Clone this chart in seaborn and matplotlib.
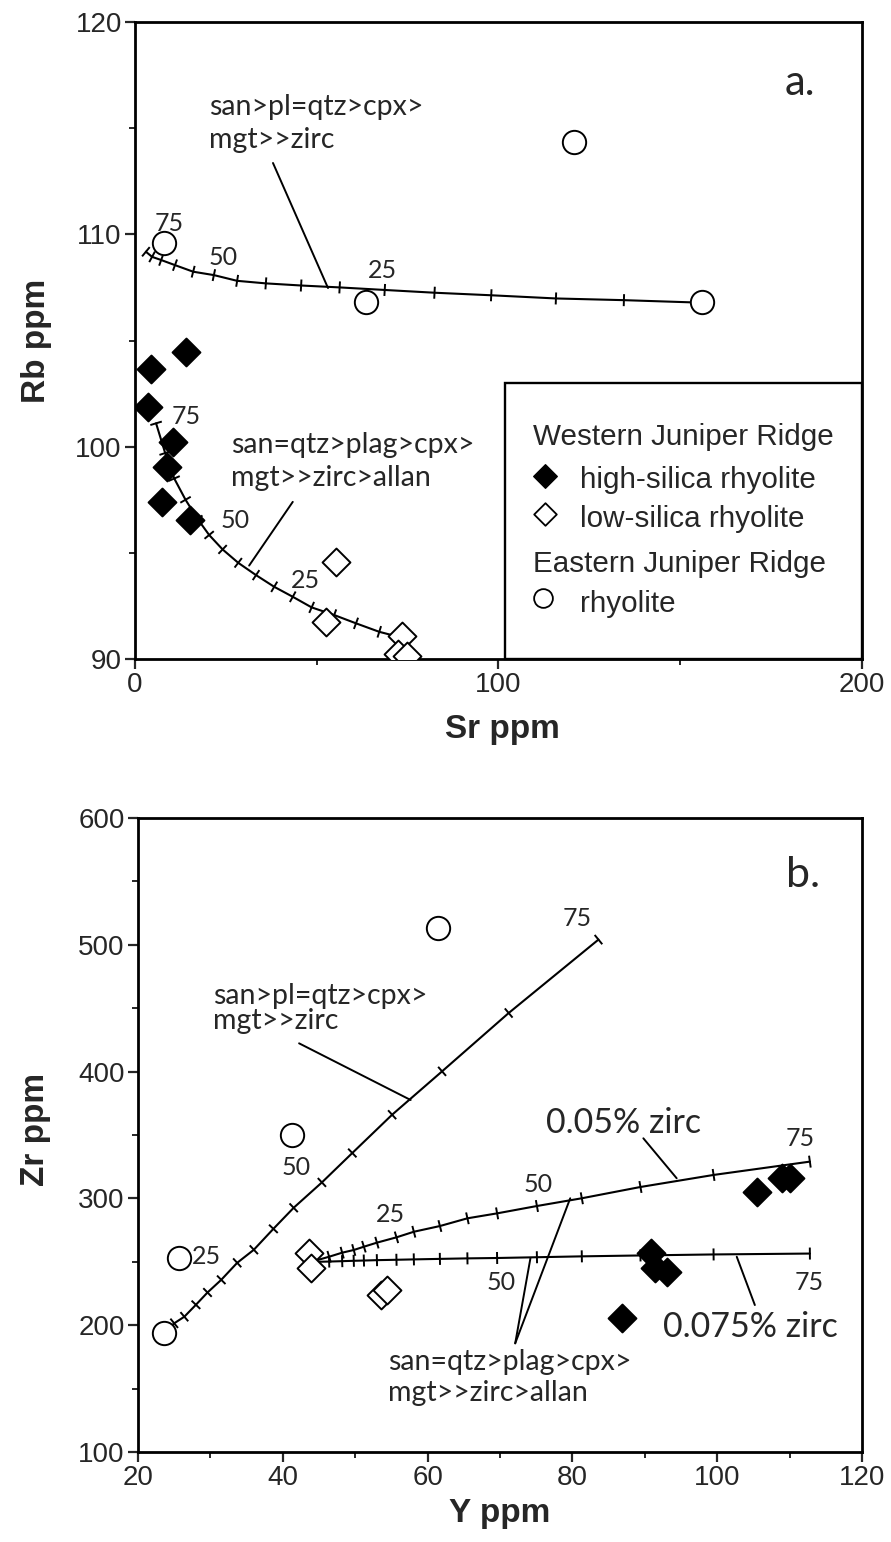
import numpy as np
import pandas as pd
import matplotlib
matplotlib.use("Agg")
import matplotlib.pyplot as plt
from matplotlib import font_manager
from matplotlib.patches import Rectangle
import seaborn as sns

# ---------------- Panel a : Rb ppm vs Sr ppm ----------------
a_high_sr = [4.4, 14.0, 3.6, 10.5, 8.8, 7.4, 15.1]
a_high_rb = [103.65, 104.45, 101.85, 100.2, 99.05, 97.4, 96.55]
a_low_sr = [55.3, 52.5, 73.5, 72.4, 74.8]
a_low_rb = [94.55, 91.75, 91.1, 90.25, 90.15]
a_east_sr = [120.8, 8.1, 63.5, 155.9]
a_east_rb = [114.35, 109.6, 106.8, 106.8]

pct = [0, 5, 10, 15, 20, 25, 30, 35, 40, 45, 50, 55, 60, 65, 70, 75]
# model: san>pl=qtz>cpx>mgt>>zirc (from eastern rhyolite)
a_m1_sr = [156.0, 134.5, 115.8, 98.0, 82.4, 68.7, 56.3, 45.7, 36.0, 28.1,
           21.7, 16.0, 11.0, 7.2, 4.7, 3.0]
a_m1_rb = [106.78, 106.9, 106.98, 107.13, 107.25, 107.38, 107.5, 107.59, 107.69,
           107.81, 108.08, 108.24, 108.55, 108.79, 108.94, 109.18]
# model: san=qtz>plag>cpx>mgt>>zirc>allan (from low-silica rhyolite)
a_m2_sr = [73.5, 67.2, 60.8, 54.8, 48.6, 43.4, 38.3, 33.3, 28.4, 24.1,
           20.4, 17.2, 13.9, 10.8, 8.3, 5.8]
a_m2_rb = [91.0, 91.28, 91.68, 92.07, 92.43, 92.93, 93.4, 93.95, 94.53, 95.16,
           95.84, 96.6, 97.5, 98.5, 99.7, 101.1]

# ---------------- Panel b : Zr ppm vs Y ppm ----------------
b_high_y = [105.5, 108.9, 110.1, 90.8, 91.4, 93.1, 86.9]
b_high_zr = [305.3, 315.8, 315.8, 256.7, 245.0, 242.2, 205.4]
b_low_y = [43.6, 43.9, 53.5, 54.4]
b_low_zr = [256.7, 245.0, 224.0, 227.8]
b_east_y = [61.4, 41.3, 25.7, 23.6]
b_east_zr = [513.0, 350.0, 252.8, 193.6]

# model: san>pl=qtz>cpx>mgt>>zirc
b_m1_y = [23.6, 25.0, 26.4, 28.0, 29.6, 31.5, 33.7, 36.0, 38.7, 41.5,
          45.4, 49.6, 55.1, 62.0, 71.2, 83.6]
b_m1_zr = [193.6, 201.5, 206.7, 216.1, 225.8, 235.8, 249.2, 259.5, 276.0, 292.6,
           312.6, 335.8, 366.0, 400.2, 446.2, 504.1]
# model: san=qtz>plag>cpx>mgt>>zirc>allan, 0.05% zircon
b_m2_y = [44.8, 46.4, 48.2, 49.8, 51.2, 53.0, 55.7, 58.1, 61.7, 65.5,
          69.6, 75.1, 81.3, 89.4, 99.5, 112.8]
b_m2_zr = [251.4, 254.0, 257.2, 259.3, 261.9, 265.1, 269.3, 273.7, 278.2, 284.3,
           288.2, 294.0, 300.1, 309.0, 318.5, 329.0]
# model: same assemblage, 0.075% zircon
b_m3_y = [44.8, 46.4, 48.2, 49.8, 51.2, 53.0, 55.7, 58.1, 61.7, 65.5,
          69.6, 75.1, 81.3, 89.4, 99.5, 112.8]
b_m3_zr = [250.0, 250.2, 250.5, 250.8, 251.0, 251.3, 251.6, 251.9, 252.3, 252.7,
           253.0, 253.6, 254.3, 255.0, 255.8, 256.5]

# ---------------- fonts / style ----------------
sns.set_style("ticks")
avail = {f.name for f in font_manager.fontManager.ttflist}
SANS = "Liberation Sans" if "Liberation Sans" in avail else "DejaVu Sans"
NARROW = "Liberation Sans Narrow" if "Liberation Sans Narrow" in avail else SANS
HUMAN = "Lato" if "Lato" in avail else SANS
plt.rcParams["font.family"] = [SANS, "DejaVu Sans"]

TICKFS = 23.5 if NARROW != SANS else 20
W, H = 891, 1542
fig = plt.figure(figsize=(W / 100, H / 100), dpi=100)
fig.patch.set_facecolor("white")

def px_axes(l, t, r, b):
    return [l / W, 1 - b / H, (r - l) / W, (b - t) / H]

ax_a = fig.add_axes(px_axes(135, 22, 862, 659))
ax_b = fig.add_axes(px_axes(138, 818, 862, 1452))

def style_axes(ax):
    for s in ax.spines.values():
        s.set_linewidth(2.0)
        s.set_color("black")
    ax.tick_params(which="major", length=7, width=1.6, direction="out",
                   labelsize=TICKFS, pad=2.5)
    ax.tick_params(which="minor", length=4.5, width=1.4, direction="out")
    ax.tick_params(top=False, right=False, which="both")
    for lab in ax.get_xticklabels() + ax.get_yticklabels():
        lab.set_fontfamily(NARROW)
    ax.set_facecolor("white")

DIAM_S = 14.2 ** 2
CIRC_S = 16.8 ** 2
MEW = 1.4

def draw_points(ax, hx, hy, lx, ly, ex, ey):
    sns.scatterplot(x=hx, y=hy, marker="D", s=DIAM_S, color="black",
                    edgecolor="black", linewidth=MEW, ax=ax, zorder=5)
    sns.scatterplot(x=lx, y=ly, marker="D", s=DIAM_S, facecolor="white",
                    edgecolor="black", linewidth=MEW, ax=ax, zorder=5)
    sns.scatterplot(x=ex, y=ey, marker="o", s=CIRC_S, facecolor="white",
                    edgecolor="black", linewidth=MEW, ax=ax, zorder=5)

def draw_model(ax, xs, ys, half=6.0, lw=1.5):
    df = pd.DataFrame({"x": xs, "y": ys, "pct": pct})
    sns.lineplot(data=df, x="x", y="y", sort=False, estimator=None,
                 color="black", linewidth=lw, ax=ax, zorder=3)
    pts = ax.transData.transform(np.column_stack([xs, ys]))
    inv = ax.transData.inverted()
    n = len(pts)
    for i in range(1, n):
        j0, j1 = max(i - 1, 0), min(i + 1, n - 1)
        t = pts[j1] - pts[j0]
        t = t / np.hypot(*t)
        nrm = np.array([-t[1], t[0]])
        seg = inv.transform(np.vstack([pts[i] - nrm * half, pts[i] + nrm * half]))
        ax.plot(seg[:, 0], seg[:, 1], color="black", lw=1.4, zorder=3,
                solid_capstyle="butt")

def leader(ax, x0, y0, x1, y1):
    ax.plot([x0, x1], [y0, y1], color="black", lw=1.4, zorder=2)

# ---------------- Panel a ----------------
ax = ax_a
ax.set_xlim(0, 200)
ax.set_ylim(90, 120)
ax.set_xticks([0, 100, 200])
ax.set_xticks([50, 150], minor=True)
ax.set_yticks([90, 100, 110, 120])
ax.set_yticks([95, 105, 115], minor=True)
draw_model(ax, a_m1_sr, a_m1_rb)
draw_model(ax, a_m2_sr, a_m2_rb)
draw_points(ax, a_high_sr, a_high_rb, a_low_sr, a_low_rb, a_east_sr, a_east_rb)
style_axes(ax)
ax.set_xlabel("Sr ppm", fontsize=24, fontweight="bold", family=SANS)
ax.set_ylabel("Rb ppm", fontsize=24, fontweight="bold", family=SANS)
ax.xaxis.set_label_coords(0.506, -0.086)
ax.yaxis.set_label_coords(-0.135, 0.5)
ax.yaxis.label.set_va("center")

PCTFS = 18
ANNFS = 20.5
for (x, y, s) in [(9.3, 110.5, "75"), (24.2, 108.9, "50"), (68.0, 108.3, "25"),
                  (14.0, 101.4, "75"), (27.5, 96.5, "50"), (46.8, 93.7, "25")]:
    ax.text(x, y, s, fontsize=PCTFS, family=HUMAN, ha="center", va="center", zorder=6)
ax.text(20.4, 115.22, "san>pl=qtz>cpx>\nmgt>>zirc", fontsize=ANNFS, family=HUMAN,
        ha="left", va="center", linespacing=1.3)
leader(ax, 37.96, 113.36, 53.1, 107.47)
ax.text(26.4, 99.3, "san=qtz>plag>cpx>\nmgt>>zirc>allan", fontsize=ANNFS, family=HUMAN,
        ha="left", va="center", linespacing=1.3)
leader(ax, 43.4, 97.4, 31.4, 94.4)
ax.text(0.915, 0.904, "a.", transform=ax.transAxes, fontsize=30, family=HUMAN,
        ha="center", va="center")

# legend box
lx0 = (505 - 135) / 727
ly1 = (659 - 383) / 637
ax.add_patch(Rectangle((lx0, 0), 1 - lx0, ly1, transform=ax.transAxes,
                       fill=True, facecolor="white", edgecolor="black", lw=1.7,
                       zorder=7, clip_on=False))
def axp(px, py):
    return ((px - 135) / 727, (659 - py) / 637)
LEGFS = 21.3
for (px, py, s) in [(533, 445, "Western Juniper Ridge"), (580, 488, "high-silica rhyolite"),
                    (580, 527, "low-silica rhyolite"), (533, 572, "Eastern Juniper Ridge"),
                    (580, 612, "rhyolite")]:
    xx, yy = axp(px, py)
    ax.text(xx, yy, s, transform=ax.transAxes, fontsize=LEGFS, family=SANS,
            ha="left", va="baseline", zorder=8)
mx, my = axp(545, 476)
ax.scatter([mx], [my], marker="D", s=12 ** 2, color="black", transform=ax.transAxes, zorder=8,
           clip_on=False)
mx, my = axp(545, 514)
ax.scatter([mx], [my], marker="D", s=11.5 ** 2, facecolor="white", edgecolor="black",
           linewidth=1.3, transform=ax.transAxes, zorder=8, clip_on=False)
mx, my = axp(543, 598)
ax.scatter([mx], [my], marker="o", s=13.5 ** 2, facecolor="white", edgecolor="black",
           linewidth=1.3, transform=ax.transAxes, zorder=8, clip_on=False)

# ---------------- Panel b ----------------
ax = ax_b
ax.set_xlim(20, 120)
ax.set_ylim(100, 600)
ax.set_xticks([20, 40, 60, 80, 100, 120])
ax.set_xticks([30, 50, 70, 90, 110], minor=True)
ax.set_yticks([100, 200, 300, 400, 500, 600])
ax.set_yticks([150, 250, 350, 450, 550], minor=True)
draw_model(ax, b_m1_y, b_m1_zr)
draw_model(ax, b_m2_y, b_m2_zr)
draw_model(ax, b_m3_y, b_m3_zr)
draw_points(ax, b_high_y, b_high_zr, b_low_y, b_low_zr, b_east_y, b_east_zr)
style_axes(ax)
ax.set_xlabel("Y ppm", fontsize=24, fontweight="bold", family=SANS)
ax.set_ylabel("Zr ppm", fontsize=24, fontweight="bold", family=SANS)
ax.xaxis.set_label_coords(0.5, -0.073)
ax.yaxis.set_label_coords(-0.142, 0.508)
ax.yaxis.label.set_va("center")

for (x, y, s) in [(29.5, 253.8, "25"), (41.8, 324.0, "50"), (80.6, 521.0, "75"),
                  (54.8, 287.0, "25"), (75.2, 310.6, "50"), (111.4, 347.6, "75"),
                  (70.2, 233.3, "50"), (112.7, 233.3, "75")]:
    ax.text(x, y, s, fontsize=PCTFS, family=HUMAN, ha="center", va="center", zorder=6)
ax.text(30.3, 449.8, "san>pl=qtz>cpx>\nmgt>>zirc", fontsize=ANNFS, family=HUMAN,
        ha="left", va="center", linespacing=0.95)
leader(ax, 42.25, 422.3, 57.66, 377.6)
ax.text(76.3, 359.5, "0.05% zirc", fontsize=24.5, family=HUMAN, ha="left", va="center")
leader(ax, 89.8, 347.4, 94.4, 315.9)
ax.text(92.55, 198.6, "0.075% zirc", fontsize=24.5, family=HUMAN, ha="left", va="center")
leader(ax, 102.7, 254.0, 105.2, 215.9)
ax.text(54.5, 158.8, "san=qtz>plag>cpx>\nmgt>>zirc>allan", fontsize=ANNFS, family=HUMAN,
        ha="left", va="center", linespacing=1.2)
leader(ax, 72.1, 185.7, 74.2, 252.7)
leader(ax, 72.1, 185.7, 79.7, 300.1)
ax.text(0.918, 0.91, "b.", transform=ax.transAxes, fontsize=31, family=HUMAN,
        ha="center", va="center")

fig.savefig("out.png", dpi=100, facecolor="white")
